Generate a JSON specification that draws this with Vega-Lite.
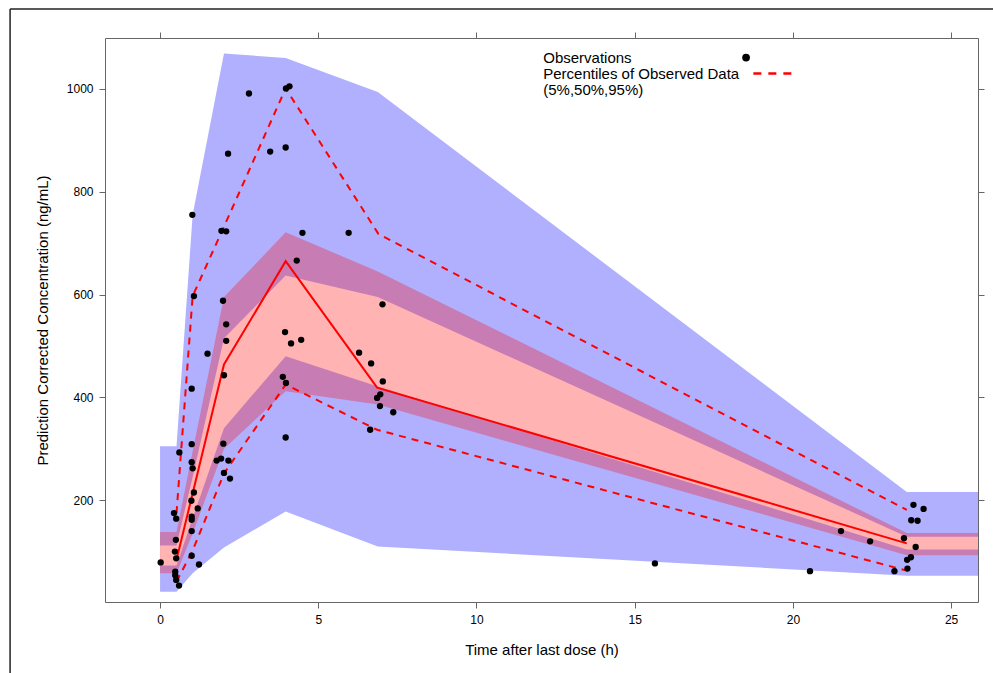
{
  "$schema": "https://vega.github.io/schema/vega-lite/v6.json",
  "width": 873,
  "height": 564,
  "autosize": "none",
  "padding": {"left": 105, "top": 38, "right": 15, "bottom": 71},
  "background": "white",
  "config": {
    "view": {"stroke": "#666666", "strokeWidth": 1},
    "font": "Liberation Sans",
    "axis": {"grid": false, "domain": false, "tickColor": "#666666", "tickSize": 6, "labelColor": "#000000", "labelFontSize": 12, "titleFontSize": 15, "titleFontWeight": "normal", "titleColor": "#000000", "labelFont": "Liberation Sans", "titleFont": "Liberation Sans"}
  },
  "datasets": {
    "bands": [
      {"t": 0, "blo": 22, "bhi": 305, "plo": 58, "phi": 138, "ilo": 73, "ihi": 112},
      {"t": 0.52, "blo": 22, "bhi": 305, "plo": 58, "phi": 138, "ilo": 73, "ihi": 112},
      {"t": 1.03, "blo": 58, "bhi": 755, "plo": 135, "phi": 295, "ilo": 165, "ihi": 245},
      {"t": 2.02, "blo": 108, "bhi": 1069, "plo": 300, "phi": 595, "ilo": 340, "ihi": 515},
      {"t": 3.97, "blo": 178, "bhi": 1060, "plo": 412, "phi": 721, "ilo": 480, "ihi": 637},
      {"t": 6.88, "blo": 110, "bhi": 994, "plo": 386, "phi": 645, "ilo": 421, "ihi": 595},
      {"t": 23.6, "blo": 53, "bhi": 216, "plo": 93, "phi": 136, "ilo": 104, "ihi": 129},
      {"t": 26, "blo": 53, "bhi": 216, "plo": 93, "phi": 136, "ilo": 104, "ihi": 129}
    ],
    "lines": [
      {"t": 0.52, "v": 84, "pct": "50%"},
      {"t": 2.02, "v": 464, "pct": "50%"},
      {"t": 3.97, "v": 665, "pct": "50%"},
      {"t": 6.86, "v": 419, "pct": "50%"},
      {"t": 23.6, "v": 116, "pct": "50%"},
      {"t": 0.52, "v": 175, "pct": "95%"},
      {"t": 1.03, "v": 597, "pct": "95%"},
      {"t": 2.02, "v": 732, "pct": "95%"},
      {"t": 3.97, "v": 1001, "pct": "95%"},
      {"t": 6.9, "v": 718, "pct": "95%"},
      {"t": 23.6, "v": 181, "pct": "95%"},
      {"t": 0.52, "v": 42, "pct": "5%"},
      {"t": 1.03, "v": 102, "pct": "5%"},
      {"t": 2.02, "v": 252, "pct": "5%"},
      {"t": 3.97, "v": 425, "pct": "5%"},
      {"t": 6.86, "v": 337, "pct": "5%"},
      {"t": 23.6, "v": 63, "pct": "5%"}
    ],
    "obs": [
      {"t": 2.09, "v": 542}, {"t": 2.09, "v": 510}, {"t": 1.5, "v": 485}, {"t": 2.02, "v": 443},
      {"t": 1.0, "v": 417}, {"t": 1.0, "v": 309}, {"t": 0.61, "v": 293}, {"t": 1.0, "v": 274},
      {"t": 1.03, "v": 262}, {"t": 2.0, "v": 310}, {"t": 1.79, "v": 277}, {"t": 1.93, "v": 281},
      {"t": 2.16, "v": 277}, {"t": 2.02, "v": 253}, {"t": 2.21, "v": 242}, {"t": 1.07, "v": 215},
      {"t": 0.99, "v": 199}, {"t": 1.19, "v": 184}, {"t": 0.44, "v": 175}, {"t": 0.51, "v": 164},
      {"t": 1.0, "v": 168}, {"t": 1.0, "v": 162}, {"t": 1.0, "v": 140}, {"t": 0.5, "v": 123},
      {"t": 0.47, "v": 100}, {"t": 0.51, "v": 87}, {"t": 0.02, "v": 79}, {"t": 1.0, "v": 92},
      {"t": 1.23, "v": 75}, {"t": 0.48, "v": 61}, {"t": 0.48, "v": 54}, {"t": 0.51, "v": 45},
      {"t": 0.6, "v": 34},
      {"t": 2.81, "v": 991}, {"t": 2.15, "v": 874}, {"t": 1.02, "v": 755}, {"t": 1.94, "v": 724},
      {"t": 2.09, "v": 723}, {"t": 1.07, "v": 597}, {"t": 1.99, "v": 588},
      {"t": 3.98, "v": 1001}, {"t": 4.09, "v": 1005}, {"t": 3.48, "v": 878}, {"t": 3.97, "v": 886},
      {"t": 4.5, "v": 720}, {"t": 5.96, "v": 720}, {"t": 4.32, "v": 666}, {"t": 7.03, "v": 581},
      {"t": 3.95, "v": 527}, {"t": 4.14, "v": 505}, {"t": 4.46, "v": 512}, {"t": 6.29, "v": 487},
      {"t": 6.67, "v": 466}, {"t": 7.04, "v": 431}, {"t": 3.88, "v": 440}, {"t": 3.98, "v": 428},
      {"t": 6.86, "v": 399}, {"t": 6.96, "v": 406}, {"t": 6.95, "v": 383}, {"t": 7.37, "v": 371},
      {"t": 6.64, "v": 337}, {"t": 3.97, "v": 322},
      {"t": 23.81, "v": 191}, {"t": 24.13, "v": 183}, {"t": 23.74, "v": 161}, {"t": 23.94, "v": 160},
      {"t": 21.52, "v": 140}, {"t": 22.44, "v": 120}, {"t": 23.51, "v": 126}, {"t": 23.88, "v": 109},
      {"t": 23.73, "v": 89}, {"t": 23.61, "v": 84}, {"t": 20.54, "v": 62}, {"t": 23.21, "v": 62},
      {"t": 23.62, "v": 67}, {"t": 15.64, "v": 77}
    ],
    "legendText": [
      {"t": 12.11, "v": 1050, "label": "Observations"},
      {"t": 12.11, "v": 1019, "label": "Percentiles of Observed Data"},
      {"t": 12.11, "v": 988, "label": "(5%,50%,95%)"}
    ],
    "legendDot": [{"t": 18.52, "v": 1061}],
    "legendLine": [{"t": 18.75, "t2": 20.05, "v": 1030}],
    "frameTop": [{"t": -4.74, "t2": 27, "v": 1155.5}],
    "frameLeft": [{"t": -4.74, "v": 1155.5, "v2": -140}]
  },
  "resolve": {"axis": {"x": "independent", "y": "independent"}},
  "layer": [
    {
      "data": {"name": "bands"},
      "mark": {"type": "area", "color": "#B0B0FF", "clip": true, "opacity": 1},
      "encoding": {
        "x": {"field": "t", "type": "quantitative", "scale": {"domain": [-1.74, 25.85], "nice": false, "zero": false},
              "axis": {"orient": "bottom", "values": [0, 5, 10, 15, 20, 25], "title": "Time after last dose (h)", "titlePadding": 17, "labelPadding": 6}},
        "y": {"field": "blo", "type": "quantitative", "scale": {"domain": [2, 1099], "nice": false, "zero": false},
              "axis": {"orient": "left", "values": [200, 400, 600, 800, 1000], "format": "d", "title": "Prediction Corrected Concentration (ng/mL)", "titlePadding": 16, "labelPadding": 6}},
        "y2": {"field": "bhi"}
      }
    },
    {
      "data": {"name": "bands"},
      "mark": {"type": "area", "color": "#C77DB3", "clip": true, "opacity": 1},
      "encoding": {
        "x": {"field": "t", "type": "quantitative", "axis": {"orient": "top", "values": [0, 5, 10, 15, 20, 25], "labels": false, "title": null}},
        "y": {"field": "plo", "type": "quantitative", "axis": {"orient": "right", "values": [200, 400, 600, 800, 1000], "labels": false, "title": null}},
        "y2": {"field": "phi"}
      }
    },
    {
      "data": {"name": "bands"},
      "mark": {"type": "area", "color": "#FFB3B3", "clip": true, "opacity": 1},
      "encoding": {
        "x": {"field": "t", "type": "quantitative", "axis": null},
        "y": {"field": "ilo", "type": "quantitative", "axis": null},
        "y2": {"field": "ihi"}
      }
    },
    {
      "data": {"name": "lines"},
      "transform": [{"filter": "datum.pct != '50%'"}],
      "mark": {"type": "line", "color": "#FF0000", "strokeWidth": 2, "strokeDash": [7, 6], "clip": true},
      "encoding": {
        "x": {"field": "t", "type": "quantitative", "axis": null},
        "y": {"field": "v", "type": "quantitative", "axis": null},
        "detail": {"field": "pct"}
      }
    },
    {
      "data": {"name": "lines"},
      "transform": [{"filter": "datum.pct == '50%'"}],
      "mark": {"type": "line", "color": "#FF0000", "strokeWidth": 2, "clip": true},
      "encoding": {
        "x": {"field": "t", "type": "quantitative", "axis": null},
        "y": {"field": "v", "type": "quantitative", "axis": null}
      }
    },
    {
      "data": {"name": "obs"},
      "mark": {"type": "circle", "color": "#000000", "size": 40, "opacity": 1},
      "encoding": {
        "x": {"field": "t", "type": "quantitative", "axis": null},
        "y": {"field": "v", "type": "quantitative", "axis": null}
      }
    },
    {
      "data": {"name": "legendText"},
      "mark": {"type": "text", "align": "left", "baseline": "alphabetic", "fontSize": 15, "font": "Liberation Sans", "color": "#000000"},
      "encoding": {
        "x": {"field": "t", "type": "quantitative", "axis": null},
        "y": {"field": "v", "type": "quantitative", "axis": null},
        "text": {"field": "label"}
      }
    },
    {
      "data": {"name": "legendDot"},
      "mark": {"type": "circle", "color": "#000000", "size": 60, "opacity": 1},
      "encoding": {
        "x": {"field": "t", "type": "quantitative", "axis": null},
        "y": {"field": "v", "type": "quantitative", "axis": null}
      }
    },
    {
      "data": {"name": "legendLine"},
      "mark": {"type": "rule", "color": "#FF0000", "strokeWidth": 2.5, "strokeDash": [8, 7]},
      "encoding": {
        "x": {"field": "t", "type": "quantitative", "axis": null},
        "x2": {"field": "t2"},
        "y": {"field": "v", "type": "quantitative", "axis": null}
      }
    },
    {
      "data": {"name": "frameTop"},
      "mark": {"type": "rule", "color": "#222222", "strokeWidth": 1.5, "clip": false},
      "encoding": {
        "x": {"field": "t", "type": "quantitative", "axis": null},
        "x2": {"field": "t2"},
        "y": {"field": "v", "type": "quantitative", "axis": null}
      }
    },
    {
      "data": {"name": "frameLeft"},
      "mark": {"type": "rule", "color": "#222222", "strokeWidth": 1.5, "clip": false},
      "encoding": {
        "x": {"field": "t", "type": "quantitative", "axis": null},
        "y": {"field": "v", "type": "quantitative", "axis": null},
        "y2": {"field": "v2"}
      }
    }
  ]
}
